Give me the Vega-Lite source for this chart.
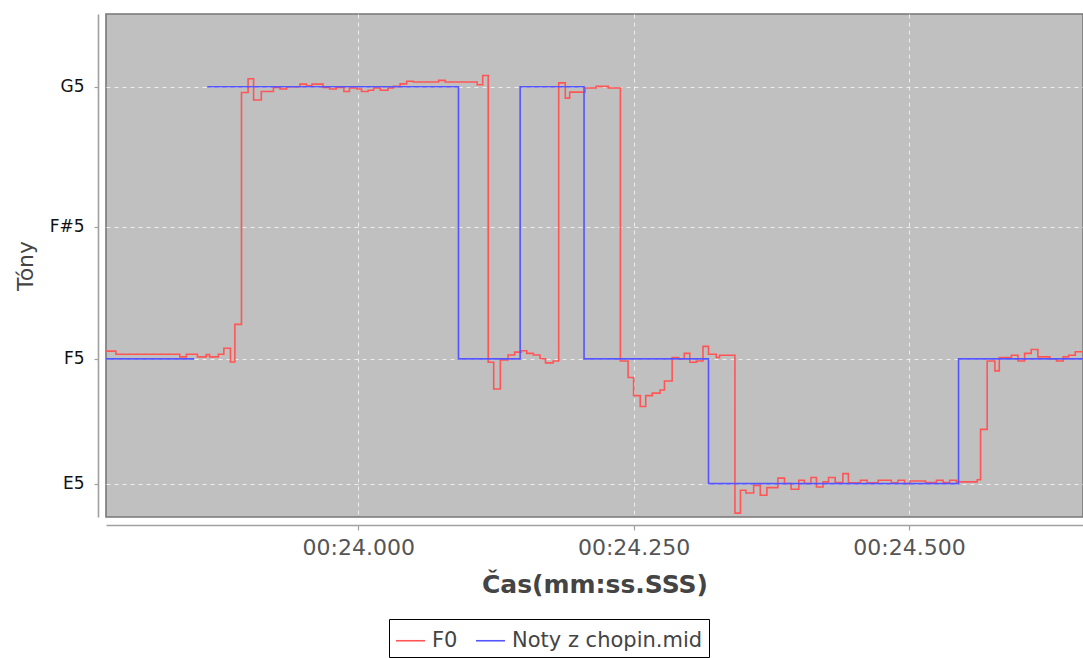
{
  "$schema": "https://vega.github.io/schema/vega-lite/v6.json",
  "autosize": {"type": "none"},
  "padding": {"left": 106, "top": 14, "right": 0, "bottom": 141},
  "width": 977,
  "height": 503,
  "background": "white",
  "config": {
    "view": {"fill": "#c0c0c0", "stroke": "#777777", "strokeWidth": 1.6},
    "font": "DejaVu Sans"
  },
  "data": {
    "values": [
      {"t": 23771, "hz": 700.9, "series": "F0", "seg": "r"},
      {"t": 23780, "hz": 699.9, "series": "F0", "seg": "r"},
      {"t": 23838, "hz": 699.1, "series": "F0", "seg": "r"},
      {"t": 23844, "hz": 699.9, "series": "F0", "seg": "r"},
      {"t": 23854, "hz": 699.1, "series": "F0", "seg": "r"},
      {"t": 23862, "hz": 699.8, "series": "F0", "seg": "r"},
      {"t": 23865, "hz": 699.1, "series": "F0", "seg": "r"},
      {"t": 23873, "hz": 699.9, "series": "F0", "seg": "r"},
      {"t": 23878, "hz": 701.8, "series": "F0", "seg": "r"},
      {"t": 23884, "hz": 697.5, "series": "F0", "seg": "r"},
      {"t": 23888, "hz": 709.3, "series": "F0", "seg": "r"},
      {"t": 23894, "hz": 782.2, "series": "F0", "seg": "r"},
      {"t": 23900, "hz": 786.5, "series": "F0", "seg": "r"},
      {"t": 23905, "hz": 779.8, "series": "F0", "seg": "r"},
      {"t": 23912, "hz": 782.5, "series": "F0", "seg": "r"},
      {"t": 23923, "hz": 783.8, "series": "F0", "seg": "r"},
      {"t": 23929, "hz": 783.3, "series": "F0", "seg": "r"},
      {"t": 23935, "hz": 784.0, "series": "F0", "seg": "r"},
      {"t": 23947, "hz": 784.8, "series": "F0", "seg": "r"},
      {"t": 23953, "hz": 784.3, "series": "F0", "seg": "r"},
      {"t": 23958, "hz": 784.8, "series": "F0", "seg": "r"},
      {"t": 23968, "hz": 783.8, "series": "F0", "seg": "r"},
      {"t": 23974, "hz": 783.3, "series": "F0", "seg": "r"},
      {"t": 23980, "hz": 783.8, "series": "F0", "seg": "r"},
      {"t": 23987, "hz": 782.5, "series": "F0", "seg": "r"},
      {"t": 23992, "hz": 783.6, "series": "F0", "seg": "r"},
      {"t": 23999, "hz": 783.3, "series": "F0", "seg": "r"},
      {"t": 24003, "hz": 782.5, "series": "F0", "seg": "r"},
      {"t": 24009, "hz": 782.9, "series": "F0", "seg": "r"},
      {"t": 24014, "hz": 783.6, "series": "F0", "seg": "r"},
      {"t": 24020, "hz": 782.9, "series": "F0", "seg": "r"},
      {"t": 24027, "hz": 783.6, "series": "F0", "seg": "r"},
      {"t": 24032, "hz": 784.1, "series": "F0", "seg": "r"},
      {"t": 24038, "hz": 784.9, "series": "F0", "seg": "r"},
      {"t": 24044, "hz": 785.7, "series": "F0", "seg": "r"},
      {"t": 24050, "hz": 785.5, "series": "F0", "seg": "r"},
      {"t": 24073, "hz": 786.0, "series": "F0", "seg": "r"},
      {"t": 24079, "hz": 785.5, "series": "F0", "seg": "r"},
      {"t": 24108, "hz": 784.6, "series": "F0", "seg": "r"},
      {"t": 24113, "hz": 787.5, "series": "F0", "seg": "r"},
      {"t": 24118, "hz": 697.4, "series": "F0", "seg": "r"},
      {"t": 24123, "hz": 689.0, "series": "F0", "seg": "r"},
      {"t": 24129, "hz": 698.1, "series": "F0", "seg": "r"},
      {"t": 24136, "hz": 699.7, "series": "F0", "seg": "r"},
      {"t": 24142, "hz": 700.6, "series": "F0", "seg": "r"},
      {"t": 24148, "hz": 701.0, "series": "F0", "seg": "r"},
      {"t": 24153, "hz": 700.2, "series": "F0", "seg": "r"},
      {"t": 24159, "hz": 699.7, "series": "F0", "seg": "r"},
      {"t": 24165, "hz": 698.5, "series": "F0", "seg": "r"},
      {"t": 24170, "hz": 697.2, "series": "F0", "seg": "r"},
      {"t": 24177, "hz": 697.8, "series": "F0", "seg": "r"},
      {"t": 24182, "hz": 785.2, "series": "F0", "seg": "r"},
      {"t": 24188, "hz": 780.4, "series": "F0", "seg": "r"},
      {"t": 24192, "hz": 782.3, "series": "F0", "seg": "r"},
      {"t": 24206, "hz": 783.6, "series": "F0", "seg": "r"},
      {"t": 24216, "hz": 784.1, "series": "F0", "seg": "r"},
      {"t": 24227, "hz": 783.6, "series": "F0", "seg": "r"},
      {"t": 24238, "hz": 697.8, "series": "F0", "seg": "r"},
      {"t": 24245, "hz": 692.6, "series": "F0", "seg": "r"},
      {"t": 24250, "hz": 686.9, "series": "F0", "seg": "r"},
      {"t": 24256, "hz": 683.5, "series": "F0", "seg": "r"},
      {"t": 24261, "hz": 686.9, "series": "F0", "seg": "r"},
      {"t": 24267, "hz": 687.7, "series": "F0", "seg": "r"},
      {"t": 24274, "hz": 688.7, "series": "F0", "seg": "r"},
      {"t": 24278, "hz": 691.5, "series": "F0", "seg": "r"},
      {"t": 24285, "hz": 698.9, "series": "F0", "seg": "r"},
      {"t": 24291, "hz": 698.5, "series": "F0", "seg": "r"},
      {"t": 24296, "hz": 700.2, "series": "F0", "seg": "r"},
      {"t": 24301, "hz": 697.4, "series": "F0", "seg": "r"},
      {"t": 24307, "hz": 697.8, "series": "F0", "seg": "r"},
      {"t": 24313, "hz": 702.4, "series": "F0", "seg": "r"},
      {"t": 24318, "hz": 699.9, "series": "F0", "seg": "r"},
      {"t": 24325, "hz": 698.9, "series": "F0", "seg": "r"},
      {"t": 24328, "hz": 699.6, "series": "F0", "seg": "r"},
      {"t": 24342, "hz": 650.0, "series": "F0", "seg": "r"},
      {"t": 24347, "hz": 657.2, "series": "F0", "seg": "r"},
      {"t": 24352, "hz": 656.3, "series": "F0", "seg": "r"},
      {"t": 24359, "hz": 658.7, "series": "F0", "seg": "r"},
      {"t": 24365, "hz": 655.6, "series": "F0", "seg": "r"},
      {"t": 24371, "hz": 658.0, "series": "F0", "seg": "r"},
      {"t": 24381, "hz": 661.0, "series": "F0", "seg": "r"},
      {"t": 24387, "hz": 659.3, "series": "F0", "seg": "r"},
      {"t": 24393, "hz": 657.5, "series": "F0", "seg": "r"},
      {"t": 24400, "hz": 660.3, "series": "F0", "seg": "r"},
      {"t": 24405, "hz": 659.3, "series": "F0", "seg": "r"},
      {"t": 24411, "hz": 661.2, "series": "F0", "seg": "r"},
      {"t": 24416, "hz": 658.2, "series": "F0", "seg": "r"},
      {"t": 24422, "hz": 659.8, "series": "F0", "seg": "r"},
      {"t": 24427, "hz": 661.2, "series": "F0", "seg": "r"},
      {"t": 24433, "hz": 659.6, "series": "F0", "seg": "r"},
      {"t": 24440, "hz": 662.4, "series": "F0", "seg": "r"},
      {"t": 24445, "hz": 659.5, "series": "F0", "seg": "r"},
      {"t": 24456, "hz": 660.3, "series": "F0", "seg": "r"},
      {"t": 24462, "hz": 659.5, "series": "F0", "seg": "r"},
      {"t": 24472, "hz": 660.3, "series": "F0", "seg": "r"},
      {"t": 24484, "hz": 659.5, "series": "F0", "seg": "r"},
      {"t": 24490, "hz": 660.3, "series": "F0", "seg": "r"},
      {"t": 24496, "hz": 659.3, "series": "F0", "seg": "r"},
      {"t": 24501, "hz": 660.1, "series": "F0", "seg": "r"},
      {"t": 24515, "hz": 659.6, "series": "F0", "seg": "r"},
      {"t": 24525, "hz": 660.3, "series": "F0", "seg": "r"},
      {"t": 24531, "hz": 659.6, "series": "F0", "seg": "r"},
      {"t": 24537, "hz": 660.3, "series": "F0", "seg": "r"},
      {"t": 24543, "hz": 659.8, "series": "F0", "seg": "r"},
      {"t": 24562, "hz": 660.5, "series": "F0", "seg": "r"},
      {"t": 24565, "hz": 676.3, "series": "F0", "seg": "r"},
      {"t": 24571, "hz": 697.8, "series": "F0", "seg": "r"},
      {"t": 24578, "hz": 694.7, "series": "F0", "seg": "r"},
      {"t": 24582, "hz": 698.9, "series": "F0", "seg": "r"},
      {"t": 24593, "hz": 699.6, "series": "F0", "seg": "r"},
      {"t": 24599, "hz": 697.8, "series": "F0", "seg": "r"},
      {"t": 24605, "hz": 700.2, "series": "F0", "seg": "r"},
      {"t": 24611, "hz": 701.4, "series": "F0", "seg": "r"},
      {"t": 24617, "hz": 699.1, "series": "F0", "seg": "r"},
      {"t": 24628, "hz": 698.5, "series": "F0", "seg": "r"},
      {"t": 24634, "hz": 697.8, "series": "F0", "seg": "r"},
      {"t": 24640, "hz": 699.1, "series": "F0", "seg": "r"},
      {"t": 24645, "hz": 699.6, "series": "F0", "seg": "r"},
      {"t": 24651, "hz": 700.7, "series": "F0", "seg": "r"},
      {"t": 24658, "hz": 700.7, "series": "F0", "seg": "r"},
      {"t": 23771, "hz": 698.46, "series": "Noty z chopin.mid", "seg": "a"},
      {"t": 23851, "hz": 698.46, "series": "Noty z chopin.mid", "seg": "a"},
      {"t": 23863, "hz": 783.99, "series": "Noty z chopin.mid", "seg": "b"},
      {"t": 24091, "hz": 698.46, "series": "Noty z chopin.mid", "seg": "b"},
      {"t": 24147, "hz": 783.99, "series": "Noty z chopin.mid", "seg": "b"},
      {"t": 24205, "hz": 698.46, "series": "Noty z chopin.mid", "seg": "b"},
      {"t": 24318, "hz": 659.26, "series": "Noty z chopin.mid", "seg": "b"},
      {"t": 24545, "hz": 698.46, "series": "Noty z chopin.mid", "seg": "b"},
      {"t": 24658, "hz": 698.46, "series": "Noty z chopin.mid", "seg": "b"}
    ]
  },
  "mark": {"type": "line", "interpolate": "step-after", "strokeWidth": 1.6, "clip": true},
  "encoding": {
    "x": {
      "field": "t",
      "type": "quantitative",
      "scale": {"domain": [23771, 24658], "nice": false, "zero": false},
      "axis": {
        "title": "Čas(mm:ss.SSS)",
        "values": [24000, 24250, 24500],
        "labelExpr": "'00:' + format(datum.value / 1000, '06.3f')",
        "offset": 8,
        "domainColor": "#a0a0a0",
        "domainWidth": 1.6,
        "tickColor": "#a0a0a0",
        "tickSize": 5,
        "tickWidth": 1.2,
        "labelFont": "DejaVu Sans",
        "labelFontSize": 22,
        "labelColor": "#555555",
        "labelPadding": 7,
        "labelFlush": false,
        "titleFont": "DejaVu Sans",
        "titleFontSize": 25,
        "titleFontWeight": "bold",
        "titleColor": "#444444",
        "titlePadding": 14,
        "grid": true,
        "gridColor": "#eeeeee",
        "gridDash": [4, 4],
        "gridWidth": 1
      }
    },
    "y": {
      "field": "hz",
      "type": "quantitative",
      "scale": {"domain": [648.77, 806.85], "nice": false, "zero": false},
      "axis": {
        "title": "Tóny",
        "values": [659.26, 698.46, 739.99, 783.99],
        "labelExpr": "datum.value < 670 ? 'E5' : datum.value < 720 ? 'F5' : datum.value < 760 ? 'F#5' : 'G5'",
        "offset": 8,
        "domainColor": "#a0a0a0",
        "domainWidth": 1.6,
        "tickColor": "#a0a0a0",
        "tickSize": 4,
        "tickWidth": 1.2,
        "labelFont": "DejaVu Sans",
        "labelFontSize": 17,
        "labelColor": "#111111",
        "labelPadding": 10,
        "titleFont": "DejaVu Sans",
        "titleFontSize": 22,
        "titleFontWeight": "normal",
        "titleColor": "#444444",
        "titlePadding": 12,
        "grid": true,
        "gridColor": "#eeeeee",
        "gridDash": [4, 4],
        "gridWidth": 1
      }
    },
    "color": {
      "field": "series",
      "type": "nominal",
      "scale": {"domain": ["F0", "Noty z chopin.mid"], "range": ["#ff5555", "#5555ff"]},
      "legend": {
        "title": null,
        "orient": "none",
        "legendX": 283,
        "legendY": 605,
        "direction": "horizontal",
        "symbolType": "stroke",
        "symbolSize": 841,
        "symbolStrokeWidth": 1.6,
        "labelFont": "DejaVu Sans",
        "labelFontSize": 21,
        "labelColor": "#444444",
        "labelLimit": 0,
        "labelOffset": 6,
        "columnPadding": 14,
        "padding": 6,
        "strokeColor": "#000000",
        "fillColor": "#ffffff"
      }
    },
    "detail": {"field": "seg", "type": "nominal"}
  }
}
